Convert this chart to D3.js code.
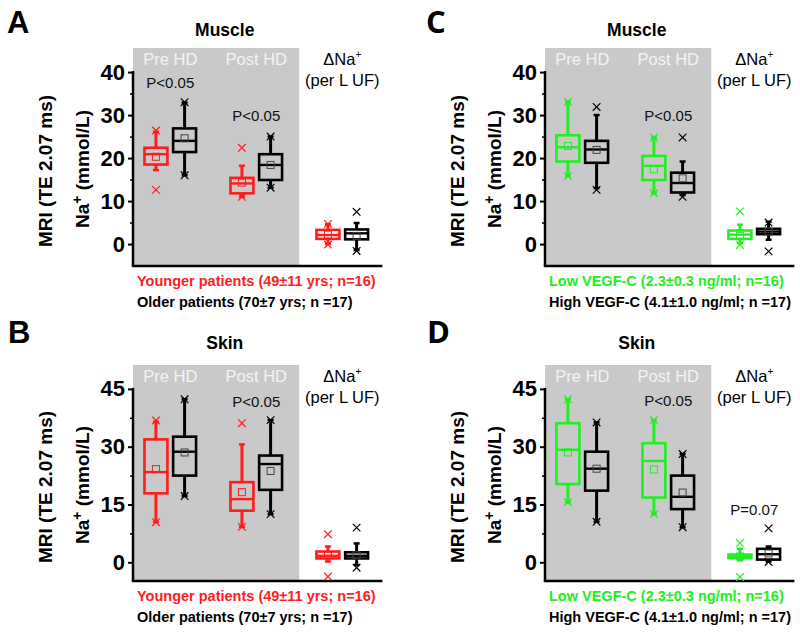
<!DOCTYPE html>
<html><head><meta charset="utf-8">
<script src="https://cdn.jsdelivr.net/npm/d3@7"></script>
<style>body{margin:0;background:#fff} svg{display:block}</style>
</head><body>
<svg id="chart" width="800" height="633"></svg>
<script>
// ---------- DATA ----------
const groups = ["Pre HD", "Post HD", "ΔNa"];
// each box: [whiskerLow, q1, median, q3, whiskerHigh, mean]
const muscleYounger = [[17.2,18.5,20.9,22.4,26.1,20.3],[11.0,11.8,14.1,15.4,18.2,14.3],[0.0,1.2,2.1,3.3,4.6,2.2]];
const muscleYoungerX = [[12.6,26.4],[11.0,22.4],[-0.1,4.7]];
const muscleOlder = [[16.0,21.4,24.0,26.9,32.9,24.6],[13.1,14.9,18.4,20.9,25.0,18.4],[-1.4,1.1,2.5,3.4,4.9,1.9]];
const muscleOlderX = [[16.0,33.0],[13.1,25.0],[-1.6,7.5]];

const skinYounger = [[10.5,17.9,23.4,31.9,36.5,24.2],[9.2,13.4,16.4,20.8,30.6,18.2],[0.2,1.0,1.7,2.8,4.1,1.8]];
const skinYoungerX = [[10.4,36.8],[9.2,36.1],[-3.7,7.3]];
const skinOlder = [[17.2,22.5,28.7,32.6,42.3,28.5],[12.5,18.8,25.5,27.7,36.9,23.7],[-0.7,1.0,1.7,2.6,4.9,1.8]];
const skinOlderX = [[17.2,42.3],[12.5,36.9],[-1.4,9.0]];

const muscleLowVegf = [[15.8,19.2,22.5,25.3,33.1,22.8],[11.8,14.9,18.2,20.5,24.8,17.4],[0.2,1.2,2.2,3.15,4.5,1.9]];
const muscleLowVegfX = [[15.8,33.1],[11.8,24.8],[-0.2,7.6]];
const muscleHighVegf = [[13.0,18.9,22.0,24.0,30.0,21.9],[11.4,12.0,14.2,16.6,19.2,15.3],[1.0,2.3,2.9,3.55,5.2,2.9]];
const muscleHighVegfX = [[12.6,31.9],[11.0,24.8],[-1.7,5.0]];

const skinLowVegf = [[15.6,20.3,29.2,36.1,42.3,28.5],[12.5,16.8,26.3,30.9,36.9,24.1],[0.5,1.1,1.5,2.0,3.5,1.5]];
const skinLowVegfX = [[15.6,42.3],[12.5,36.9],[-3.8,5.0]];
const skinHighVegf = [[10.5,18.6,24.3,28.7,36.3,24.3],[9.1,13.8,17.0,22.5,28.1,18.1],[0.2,0.7,2.1,3.5,4.1,2.3]];
const skinHighVegfX = [[10.5,36.3],[9.1,28.1],[0.1,8.8]];

const muscleTicks = [0,10,20,30,40];
const skinTicks = [0,15,30,45];

const ageLegend = ["Younger patients (49±11 yrs; n=16)", "Older patients (70±7 yrs; n =17)"];
const vegfLegend = ["Low VEGF-C (2.3±0.3 ng/ml; n=16)", "High VEGF-C (4.1±1.0 ng/ml; n =17)"];

// p-value annotations: [groupIndex, yValue, label]
const pA = [[0,36.3,"P<0.05"],[1,28.6,"P<0.05"]];
const pB = [[1,40.3,"P<0.05"]];
const pC = [[1,28.6,"P<0.05"]];
const pD = [[1,40.6,"P<0.05"],[2,12.3,"P=0.07"]];

// ---------- LAYOUT ----------
const RED = "#ff1c1c", GREEN = "#22ee22", BLACK = "#000";
const panels = [
  {letter:"A", title:"Muscle", ax:133, top:48, bottom:266, yDom:[-5.1,45.6], ticks:muscleTicks, minor:5,
   series:[muscleYounger, muscleOlder], marks:[muscleYoungerX, muscleOlderX], colors:[RED,BLACK], legend:ageLegend, p:pA,
   letterPos:[7,33], titleY:35.5, letterFont:"'Liberation Sans', Arial, sans-serif"},
  {letter:"B", title:"Skin", ax:133, top:365, bottom:581, yDom:[-4.85,51.2], ticks:skinTicks, minor:7.5,
   series:[skinYounger, skinOlder], marks:[skinYoungerX, skinOlderX], colors:[RED,BLACK], legend:ageLegend, p:pB,
   letterPos:[8,343], titleY:349, letterFont:"'Liberation Sans', Arial, sans-serif"},
  {letter:"C", title:"Muscle", ax:545, top:48, bottom:266, yDom:[-5.1,45.6], ticks:muscleTicks, minor:5,
   series:[muscleLowVegf, muscleHighVegf], marks:[muscleLowVegfX, muscleHighVegfX], colors:[GREEN,BLACK], legend:vegfLegend, p:pC,
   letterPos:[426,33], titleY:35.5, letterFont:"'Open Sans', sans-serif"},
  {letter:"D", title:"Skin", ax:545, top:365, bottom:581, yDom:[-4.85,51.2], ticks:skinTicks, minor:7.5,
   series:[skinLowVegf, skinHighVegf], marks:[skinLowVegfX, skinHighVegfX], colors:[GREEN,BLACK], legend:vegfLegend, p:pD,
   letterPos:[427,343], titleY:349, letterFont:"'Open Sans', sans-serif"}
];

const svg = d3.select("#chart");
const SANS = "'Liberation Sans', Arial, sans-serif";

panels.forEach(P => {
  const g = svg.append("g");
  const x = d3.scaleLinear().domain([0.2, 8.9]).range([P.ax, P.ax + 249.4]);
  const y = d3.scaleLinear().domain(P.yDom).range([P.bottom, P.top]);
  const slot = (gi, si) => gi * 3 + si + 1;
  const boxW = x(1.8) - x(1);

  // grey background for Pre/Post HD
  g.append("rect").attr("x", x(0.2)).attr("y", P.top)
    .attr("width", x(6) - x(0.2)).attr("height", P.bottom - P.top).attr("fill", "#c9c9c9");

  // letter & title
  g.append("text").attr("x", P.letterPos[0]).attr("y", P.letterPos[1])
    .attr("font-family", P.letterFont).attr("font-weight", "bold").attr("font-size", 31).text(P.letter);
  g.append("text").attr("x", x(3.4)).attr("y", P.titleY).attr("text-anchor", "middle")
    .attr("font-family", SANS).attr("font-weight", "bold").attr("font-size", 17.5).text(P.title);

  // group headers
  [0,1].forEach(gi => {
    g.append("text").attr("x", x(gi*3 + 1.5)).attr("y", P.top + 17).attr("text-anchor", "middle")
      .attr("font-family", SANS).attr("font-size", 16.5).attr("fill", "#f3f3f3").text(groups[gi]);
  });
  const dt = g.append("text").attr("x", x(7.5)).attr("y", P.top + 17).attr("text-anchor", "middle")
    .attr("font-family", SANS).attr("font-size", 16.5).attr("fill", "#000");
  dt.append("tspan").text(groups[2]);
  dt.append("tspan").attr("font-size", 10).attr("dy", -7).text("+");
  g.append("text").attr("x", x(7.5)).attr("y", P.top + 38).attr("text-anchor", "middle")
    .attr("font-family", SANS).attr("font-size", 16.5).text("(per L UF)");

  // y axis
  const yAxis = d3.axisLeft(y).tickValues(P.ticks).tickSize(5).tickPadding(3).tickFormat(d3.format("d"));
  const ag = g.append("g").attr("transform", `translate(${P.ax},0)`).call(yAxis);
  ag.select(".domain").remove();
  ag.selectAll(".tick line").attr("stroke", "#000").attr("stroke-width", 2);
  ag.selectAll(".tick text").attr("font-family", SANS).attr("font-weight", "bold").attr("font-size", 22).attr("fill", "#000");
  const minorVals = d3.range(P.ticks[0] + P.minor, P.ticks[P.ticks.length-1], P.minor*2);
  const mg = g.append("g").attr("transform", `translate(${P.ax},0)`)
    .call(d3.axisLeft(y).tickValues(minorVals).tickSize(3).tickFormat(""));
  mg.select(".domain").remove();
  mg.selectAll(".tick line").attr("stroke", "#000").attr("stroke-width", 1.5);
  // spine and bottom axis
  g.append("line").attr("x1", P.ax).attr("x2", P.ax).attr("y1", y(P.ticks[P.ticks.length-1]) - 1).attr("y2", P.bottom)
    .attr("stroke", "#000").attr("stroke-width", 2.5);
  g.append("line").attr("x1", P.ax - 1.2).attr("x2", x(8.9)).attr("y1", P.bottom).attr("y2", P.bottom)
    .attr("stroke", "#000").attr("stroke-width", 2.5);

  // y labels
  const midY = (P.top + P.bottom) / 2 + 14;
  g.append("text").attr("transform", `translate(${P.ax - 88},${midY}) rotate(-90)`).attr("dy", "0.35em")
    .attr("text-anchor", "middle").attr("font-family", SANS).attr("font-weight", "bold").attr("font-size", 19)
    .text("MRI (TE 2.07 ms)");
  const nl = g.append("text").attr("transform", `translate(${P.ax - 51},${midY - 2}) rotate(-90)`).attr("dy", "0.35em")
    .attr("text-anchor", "middle").attr("font-family", SANS).attr("font-weight", "bold").attr("font-size", 19);
  nl.append("tspan").text("Na");
  nl.append("tspan").attr("font-size", 14).attr("dy", -7).text("+");
  nl.append("tspan").attr("dy", 7).text(" (mmol/L)");

  // boxes
  P.series.forEach((ser, si) => {
    const col = P.colors[si];
    const meanCol = si === 1 ? "#444" : col;
    ser.forEach((s, gi) => {
      const [lo, q1, med, q3, hi, mean] = s;
      const cx = x(slot(gi, si));
      const bg = g.append("g");
      bg.append("line").attr("x1", cx).attr("x2", cx).attr("y1", y(lo)).attr("y2", y(q1)).attr("stroke", col).attr("stroke-width", 3);
      bg.append("line").attr("x1", cx).attr("x2", cx).attr("y1", y(q3)).attr("y2", y(hi)).attr("stroke", col).attr("stroke-width", 3);
      [lo, hi].forEach(v => bg.append("line").attr("x1", cx - 3).attr("x2", cx + 3).attr("y1", y(v)).attr("y2", y(v))
        .attr("stroke", col).attr("stroke-width", 2.5));
      bg.append("rect").attr("x", cx - boxW/2).attr("y", y(q3)).attr("width", boxW).attr("height", y(q1) - y(q3))
        .attr("fill", "none").attr("stroke", col).attr("stroke-width", 2.6);
      bg.append("line").attr("x1", cx - boxW/2).attr("x2", cx + boxW/2).attr("y1", y(med)).attr("y2", y(med))
        .attr("stroke", col).attr("stroke-width", 2.4);
      bg.append("rect").attr("x", cx - 3.5).attr("y", y(mean) - 3.5).attr("width", 7).attr("height", 7)
        .attr("fill", "none").attr("stroke", meanCol).attr("stroke-width", 1);
      P.marks[si][gi].forEach(v => {
        const cy = y(v), r = 3.8;
        bg.append("path").attr("d", `M${cx-r},${cy-r}L${cx+r},${cy+r}M${cx-r},${cy+r}L${cx+r},${cy-r}`)
          .attr("stroke", col).attr("stroke-width", 1.2).attr("fill", "none");
      });
    });
  });

  // p-values
  P.p.forEach(([gi, v, t]) => {
    g.append("text").attr("x", x(gi*3 + 1.5)).attr("y", y(v)).attr("text-anchor", "middle")
      .attr("font-family", SANS).attr("font-size", 15).attr("fill", "#111").text(t);
  });

  // legend
  P.legend.forEach((t, i) => {
    g.append("text").attr("x", P.ax + 4).attr("y", P.bottom + 20 + i*20.5)
      .attr("font-family", SANS).attr("font-weight", "bold").attr("font-size", 14.5)
      .attr("fill", P.colors[i]).text(t);
  });
});
</script>
</body></html>
